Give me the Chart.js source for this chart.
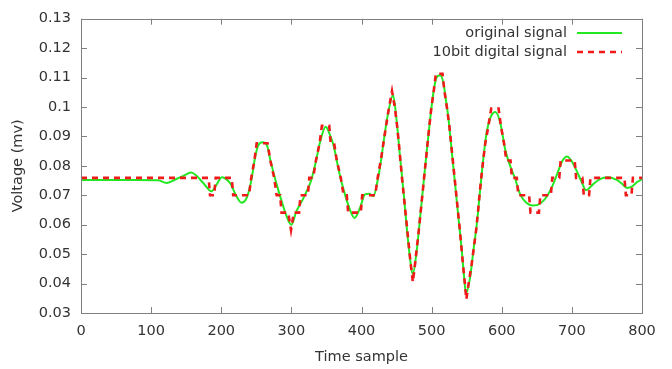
<!DOCTYPE html>
<html><head><meta charset="utf-8">
<script src="https://cdn.jsdelivr.net/npm/chart.js@4"></script>
<style>html,body{margin:0;padding:0;background:#fff;}</style>
</head><body>
<canvas id="c" width="672" height="369"></canvas>
<script>
// ---- data ----
const originalT = [0,40,80,110,122,133,146,157,164,175,186,193,201,207,213,221,229,236,240,244,248,253,259,265,270,274,279,286,293,300,307,315,321,327,334,341,349,355,360,365,370,375,380,390,398,405,411,417,423,428,432,438,445,450,455,460,464.5,469,473,478.8,483.6,488.3,493,498,502.6,507,512,517,520,524,528.7,533.5,538.2,543,546.3,549,555,559.6,564.4,569,573.8,578.6,584,591,598,605,612,619,626,635,645,655,664,672,679,686,693,700,707,714,720,730,740,752,764,772,779,786,793,800];
const originalV = [0.0752,0.0752,0.0752,0.0751,0.0742,0.0752,0.0766,0.0777,0.0768,0.0740,0.0714,0.0735,0.0761,0.0755,0.0740,0.0700,0.0675,0.0690,0.0720,0.0765,0.0826,0.0871,0.0880,0.0871,0.0820,0.0782,0.0737,0.0681,0.0630,0.0600,0.0645,0.0680,0.0710,0.0742,0.0804,0.0882,0.0933,0.0905,0.0871,0.0815,0.0759,0.0715,0.0675,0.0623,0.0658,0.0703,0.0705,0.0697,0.0750,0.0820,0.0890,0.0980,0.1040,0.0955,0.0830,0.0710,0.0591,0.0490,0.0432,0.0513,0.0625,0.0737,0.0849,0.0961,0.1050,0.1100,0.1108,0.1080,0.1030,0.0961,0.0849,0.0737,0.0625,0.0513,0.0423,0.0367,0.0423,0.0513,0.0602,0.0714,0.0826,0.0916,0.0965,0.0983,0.0945,0.0855,0.0800,0.0757,0.0705,0.0675,0.0665,0.0672,0.0695,0.0730,0.0772,0.0815,0.0832,0.0815,0.0782,0.0745,0.0717,0.0737,0.0755,0.0761,0.0752,0.0738,0.0725,0.0730,0.0745,0.0755];
// quantised signal: time at which each level starts, and the level
const digitalT = [0,183,191,216,240.5,245,249.5,267,273,278,285,296.5,302.5,312,324.5,332,338,342.5,355,362,367.5,373.5,380,400,420.5,425.5,429.5,433,437,441,446,449.5,452,454.5,456.5,459,461.5,464,466.5,469,471.5,475,477.5,480.5,483,485.5,488,490.5,493,495.5,498,501,505,516.5,520,524,526.5,529,531.5,534,536.5,539,541.5,543.5,546,548.5,550.5,555.5,558.5,562,565,567,569.5,572,575,578,584,596.5,601,605.5,613.5,622.5,640,654,671,683,705,716,725.5,776,786,800];
const digitalV = [0.0759,0.0700,0.0759,0.0700,0.0759,0.0818,0.0877,0.0818,0.0759,0.0700,0.0641,0.0582,0.0641,0.0700,0.0759,0.0818,0.0877,0.0936,0.0877,0.0818,0.0759,0.0700,0.0641,0.0700,0.0759,0.0818,0.0877,0.0936,0.0995,0.1054,0.0995,0.0936,0.0877,0.0818,0.0759,0.0700,0.0641,0.0582,0.0523,0.0464,0.0405,0.0464,0.0523,0.0582,0.0641,0.0700,0.0759,0.0818,0.0877,0.0936,0.0995,0.1054,0.1113,0.1054,0.0995,0.0936,0.0877,0.0818,0.0759,0.0700,0.0641,0.0582,0.0523,0.0464,0.0405,0.0346,0.0405,0.0464,0.0523,0.0582,0.0641,0.0700,0.0759,0.0818,0.0877,0.0936,0.0995,0.0936,0.0877,0.0818,0.0759,0.0700,0.0641,0.0700,0.0759,0.0818,0.0759,0.0700,0.0759,0.0700,0.0759,0.0759];
const xTickValues = [0,100,200,300,400,500,600,700,800];
const xTickLabels = ['0','100','200','300','400','500','600','700','800'];
const yTickValues = [0.03,0.04,0.05,0.06,0.07,0.08,0.09,0.10,0.11,0.12,0.13];
const yTickLabels = ['0.03','0.04','0.05','0.06','0.07','0.08','0.09','0.1','0.11','0.12','0.13'];
const seriesLabels = ['original signal','10bit digital signal'];
const xTitle = 'Time sample';
const yTitle = 'Voltage (mv)';

// ---- styling ----
const FONT = {family:'"DejaVu Sans", sans-serif', size:14.5};
const TEXT = '#333333';
const FRAME = '#808080';
const GREEN = '#22e822';
const RED = '#f01a1a';

// the library's line needs points: each level plateau -> its ends (or its centre when short)
const digitalPoints = [];
for (let i = 0; i < digitalT.length; i++) {
  const a = digitalT[i], b = i + 1 < digitalT.length ? digitalT[i+1] : digitalT[i];
  if (b - a > 6) { digitalPoints.push({x:a + (i ? 1 : 0), y:digitalV[i]}); digitalPoints.push({x:b - 1, y:digitalV[i]}); }
  else digitalPoints.push({x:(a + b) / 2, y:digitalV[i]});
}

const frameAndLegend = {
  id:'frameAndLegend',
  afterDatasetsDraw(chart){
    const {ctx, chartArea:a, scales:{x, y}} = chart;
    ctx.save();
    ctx.strokeStyle = FRAME; ctx.lineWidth = 1;
    ctx.strokeRect(Math.round(a.left)+0.5, Math.round(a.top)+0.5, Math.round(a.right-a.left), Math.round(a.bottom-a.top));
    const tl = 6;
    ctx.beginPath();
    x.ticks.forEach(t => {
      const px = Math.round(x.getPixelForValue(t.value))+0.5;
      ctx.moveTo(px, a.bottom); ctx.lineTo(px, a.bottom-tl);
      ctx.moveTo(px, a.top); ctx.lineTo(px, a.top+tl);
    });
    y.ticks.forEach(t => {
      const py = Math.round(y.getPixelForValue(t.value))+0.5;
      ctx.moveTo(a.left, py); ctx.lineTo(a.left+tl, py);
      ctx.moveTo(a.right, py); ctx.lineTo(a.right-tl, py);
    });
    ctx.stroke();
    // legend
    ctx.font = FONT.size + 'px ' + FONT.family;
    ctx.fillStyle = TEXT; ctx.textAlign = 'right'; ctx.textBaseline = 'middle';
    const rows = [33, 52];
    chart.data.datasets.forEach((ds, i) => {
      ctx.fillText(ds.label, 567, rows[i]);
      ctx.beginPath();
      ctx.strokeStyle = ds.borderColor; ctx.lineWidth = ds.borderWidth;
      ctx.setLineDash(ds.borderDash || []);
      ctx.moveTo(577, rows[i]); ctx.lineTo(622, rows[i]);
      ctx.stroke();
      ctx.setLineDash([]);
    });
    ctx.restore();
  }
};

new Chart(document.getElementById('c'), {
  type:'line',
  data:{
    datasets:[
      {label:seriesLabels[0], data:originalT.map((t,i)=>({x:t, y:originalV[i]})),
       borderColor:GREEN, borderWidth:2, pointRadius:0, cubicInterpolationMode:'monotone', fill:false, order:2},
      {label:seriesLabels[1], data:digitalPoints,
       borderColor:RED, borderWidth:2.6, borderDash:[6,5], pointRadius:0, tension:0, fill:false, order:1}
    ]
  },
  options:{
    responsive:false, animation:false, devicePixelRatio:1,
    layout:{padding:{left:0, right:30, top:16, bottom:0}},
    plugins:{legend:{display:false}, tooltip:{enabled:false}},
    scales:{
      x:{type:'linear', min:0, max:800,
         afterBuildTicks:s=>{ s.ticks = xTickValues.map(v=>({value:v})); },
         afterFit:s=>{ s.height = 56; },
         grid:{display:false, drawTicks:false}, border:{display:false},
         ticks:{font:FONT, color:TEXT, padding:10, maxRotation:0, autoSkip:false,
                callback:(v,i)=>xTickLabels[i]},
         title:{display:true, text:xTitle, font:FONT, color:TEXT, padding:{top:0,bottom:3}}},
      y:{type:'linear', min:0.03, max:0.13,
         afterBuildTicks:s=>{ s.ticks = yTickValues.map(v=>({value:v})); },
         afterFit:s=>{ s.width = 81; },
         grid:{display:false, drawTicks:false}, border:{display:false},
         ticks:{font:FONT, color:TEXT, padding:10, autoSkip:false,
                callback:(v,i)=>yTickLabels[i]},
         title:{display:true, text:yTitle, font:FONT, color:TEXT, padding:{top:10,bottom:0}}}
    }
  },
  plugins:[frameAndLegend]
});
</script>
</body></html>
